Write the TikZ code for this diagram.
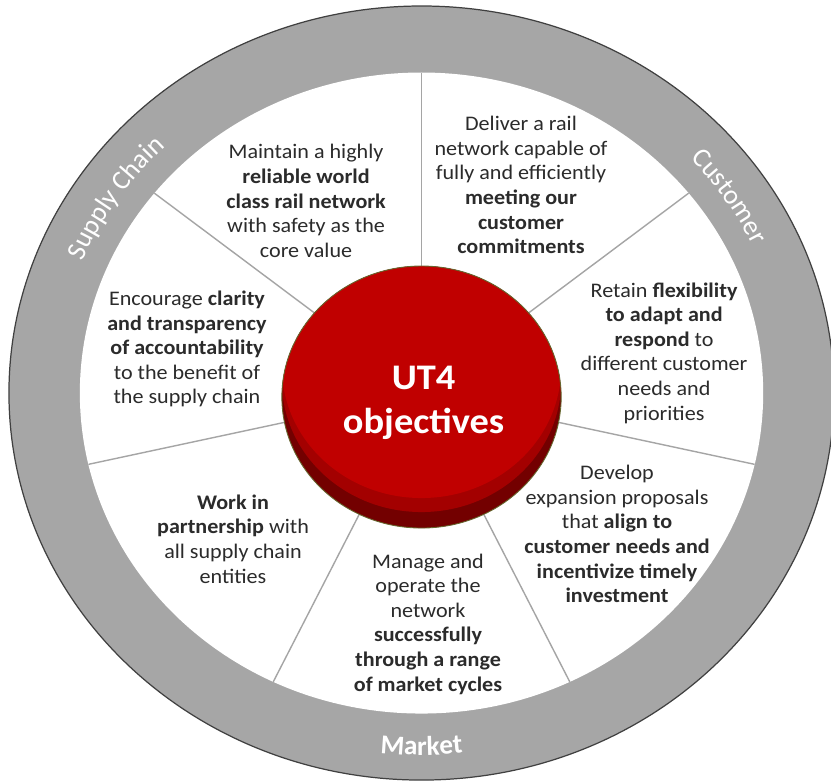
\documentclass[tikz,border=0pt]{standalone}
\usepackage{fontspec}
\setmainfont{Carlito}
\usetikzlibrary{decorations.text}
\definecolor{ringgray}{HTML}{A6A6A6}
\definecolor{spokegray}{HTML}{A5A5A5}
\definecolor{hubred}{HTML}{C00000}
\definecolor{hubmid}{HTML}{A30000}
\definecolor{hubdark}{HTML}{730000}
\definecolor{hubedge}{HTML}{66662E}
\definecolor{bodytext}{HTML}{2B2B2B}
\newcommand\ringlabelfont{\fontsize{15.5}{18}\selectfont}

\begin{document}
\begin{tikzpicture}[x=0.02cm,y=0.02cm,xscale=1.066,transform shape,
    spoke/.style={draw=spokegray,line width=0.8pt},
    goal/.style={align=center,text=bodytext,font=\fontsize{11.8}{14}\selectfont},
    hubtext/.style={align=center,text=white,font=\fontsize{20.5}{25}\selectfont\bfseries},
    ringtext/.style={decorate,decoration={text along path,text align=center,
      text color=white,text={#1}}}]
  \useasboundingbox (-395.4,-389) rectangle (384.1,393);
  \fill[ringgray] (0,0) circle[radius=387];
  \draw[black!75,line width=0.7pt] (0,0) circle[radius=387];
  \fill[white] (0,0) circle[radius=320.5];
  \foreach \a in {0,...,6}
    \draw[spoke] (0,0) -- ({90+\a*360/7}:320.5);

  \begin{scope}
    \clip (0,-4) circle[radius=131];
    \fill[hubdark] (0,-4) circle[radius=131];
    \fill[hubmid] (0,12) circle[radius=131];
    \fill[hubred] (0,26) circle[radius=131];
  \end{scope}
  \draw[hubedge,line width=0.5pt] (0,-4) circle[radius=131];
  \node[hubtext] (hub) at (2,-10) {UT4\\objectives};

  \node[goal] (maintain) at (-108.3,192) {Maintain a highly\\\textbf{reliable world}\\\textbf{class rail network}\\with safety as the\\core value};
  \node[goal] (deliver) at (93.3,208) {Deliver a rail\\network capable of\\fully and efficiently\\\textbf{meeting our}\\\textbf{customer}\\\textbf{commitments}};
  \node[goal] (retain) at (227.5,40) {Retain \textbf{flexibility}\\\textbf{to adapt and}\\\textbf{respond} to\\different customer\\needs and\\priorities};
  \node[goal] (develop) at (183.4,-141) {Develop\\expansion proposals\\that \textbf{align to}\\\textbf{customer needs and}\\\textbf{incentivize timely}\\\textbf{investment}};
  \node[goal] (manage) at (6.1,-231) {Manage and\\operate the\\network\\\textbf{successfully}\\\textbf{through a range}\\\textbf{of market cycles}};
  \node[goal] (work) at (-176.8,-146) {\textbf{Work in}\\\textbf{partnership} with\\all supply chain\\entities};
  \node[goal] (encourage) at (-220,44) {Encourage \textbf{clarity}\\\textbf{and transparency}\\\textbf{of accountability}\\to the benefit of\\the supply chain};

  \path[ringtext={|\ringlabelfont|Supply Chain}] (166:344) arc[start angle=166,end angle=126,radius=344];
  \path[ringtext={|\ringlabelfont|Customer}] (54:344) arc[start angle=54,end angle=14,radius=344];
  \path[ringtext={|\ringlabelfont\bfseries|Market}] (250:362) arc[start angle=250,end angle=290,radius=362];
\end{tikzpicture}
\end{document}
